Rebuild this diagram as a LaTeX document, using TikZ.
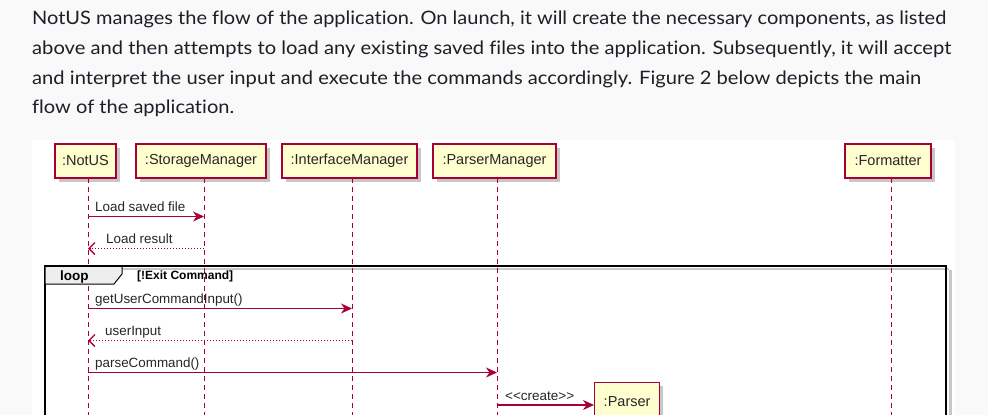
\documentclass[tikz,border=0pt]{standalone}
\usepackage{fontspec}
\usepackage{graphicx}
\setmainfont{Liberation Sans}
\newfontfamily\parafont[Ligatures=NoCommon]{Lato}
\newfontfamily\diafont{Liberation Sans}
\usetikzlibrary{arrows.meta}
\definecolor{umlred}{HTML}{A80036}
\definecolor{umlfill}{HTML}{FEFECE}
\definecolor{pagebg}{HTML}{F9F9F9}
\definecolor{paratext}{HTML}{1E1E28}
\definecolor{tabgrey}{HTML}{EEEEEE}
\begin{document}
\begin{tikzpicture}[x=1pt,y=-1pt,
  paraline/.style={anchor=base west,inner sep=0pt,text=paratext,font=\parafont\fontsize{18.5}{20}\selectfont},
  partbox/.style={draw=umlred,fill=umlfill,line width=1.2pt,minimum height=34pt,inner xsep=4pt,inner ysep=0pt,font=\diafont\fontsize{14.5}{16}\selectfont,text=black!85},
  lifeline/.style={draw=umlred,line width=0.8pt,dash pattern=on 5pt off 4pt},
  msg/.style={draw=umlred,line width=1.1pt,-{Stealth[length=11pt,width=10pt,inset=3.5pt]}},
  ret/.style={draw=umlred,line width=1.1pt,dash pattern=on 1.5pt off 1.5pt,-{Straight Barb[length=6pt,width=12pt,line width=1.4pt]}},
  msglabel/.style={anchor=base west,inner sep=0pt,font=\diafont\fontsize{13.4}{15}\selectfont,text=black!85},
]
\useasboundingbox (0,0) rectangle (988,415);
\fill[pagebg] (0,0) rectangle (988,415);
% paragraph
\node[paraline] (p1) at (32,25) {\resizebox{914pt}{\height}{NotUS manages the flow of the application. On launch, it will create the necessary components, as listed}};
\node[paraline] (p2) at (32,54.5) {\resizebox{919pt}{\height}{above and then attempts to load any existing saved files into the application. Subsequently, it will accept}};
\node[paraline] (p3) at (32,84) {\resizebox{889pt}{\height}{and interpret the user input and execute the commands accordingly. Figure 2 below depicts the main}};
\node[paraline] (p4) at (32,113.5) {\resizebox{202pt}{\height}{flow of the application.}};
% diagram area
\fill[white] (32,140) rectangle (955,415);
% loop frame shadow
\fill[black!22] (949,270) rectangle (952,415);
\fill[black!22] (50,268) rectangle (949,270);
% participants shadows
\foreach \a/\b in {55/116,136/266,282/417,433/556,845/931}{
  \fill[black!22] (\a+4,148) rectangle (\b+4,182);
}
\fill[black!22] (598,386) rectangle (663,415);
% participants
\node[partbox,minimum width=61pt] (notus) at (85.5,161) {:NotUS};
\node[partbox,minimum width=130pt] (storage) at (201,161) {:StorageManager};
\node[partbox,minimum width=135pt] (iface) at (349.5,161) {:InterfaceManager};
\node[partbox,minimum width=123pt] (pmgr) at (494.5,161) {:ParserManager};
\node[partbox,minimum width=86pt] (fmt) at (888,161) {:Formatter};
% lifeline ends
\coordinate (notusE) at (88,415);
\coordinate (storageE) at (204,415);
\coordinate (ifaceE) at (352,415);
\coordinate (pmgrE) at (497,415);
\coordinate (fmtE) at (891,415);
\coordinate (notusS) at (88,178);
\coordinate (storageS) at (204,178);
\coordinate (ifaceS) at (352,178);
\coordinate (pmgrS) at (497,178);
\coordinate (fmtS) at (891,178);
\draw[lifeline] (notusS) -- (notusE);
\draw[lifeline] (storageS) -- (storageE);
\draw[lifeline] (ifaceS) -- (ifaceE);
\draw[lifeline] (pmgrS) -- (pmgrE);
\draw[lifeline] (fmtS) -- (fmtE);
% loop frame
\draw[black,line width=1.8pt] (45,415) -- (45,266) -- (946,266) -- (946,415);
\fill[tabgrey,draw=black,line width=1pt] (45,266) -- (122,266) -- (122,274) -- (114,284) -- (45,284) -- cycle;
\draw[black,line width=1.8pt] (45,266) -- (946,266);
\node[anchor=base west,inner sep=0pt,font=\diafont\bfseries\fontsize{13.5}{15}\selectfont] (looplbl) at (60,280.5) {loop};
\node[anchor=base west,inner sep=0pt,font=\diafont\bfseries\fontsize{12}{13}\selectfont] (guard) at (137,279.5) {[!Exit Command]};
% messages
\coordinate (m1a) at (88,216.5);  \coordinate (m1b) at (204,216.5);
\draw[msg] (m1a) -- (m1b);
\node[msglabel] (l1) at (95,211.5) {Load saved file};
\coordinate (m2a) at (204,248.5);  \coordinate (m2b) at (88,248.5);
\draw[ret] (m2a) -- (m2b);
\node[msglabel] (l2) at (106,243.5) {Load result};
\coordinate (m3a) at (88,308.5);  \coordinate (m3b) at (352,308.5);
\draw[msg] (m3a) -- (m3b);
\node[msglabel] (l3) at (95,303.5) {getUserCommandInput()};
\coordinate (m4a) at (352,340.5);  \coordinate (m4b) at (88,340.5);
\draw[ret] (m4a) -- (m4b);
\node[msglabel] (l4) at (105,335.5) {userInput};
\coordinate (m5a) at (88,372.5);  \coordinate (m5b) at (497,372.5);
\draw[msg] (m5a) -- (m5b);
\node[msglabel] (l5) at (95,367.5) {parseCommand()};
% parser
\node[partbox,minimum width=65pt,minimum height=40pt,anchor=north west] (parser) at (594,382) {\raisebox{1.5pt}{:Parser}};
\coordinate (m6a) at (497,405);
\draw[msg] (m6a) -- (m6a -| parser.west);
\node[msglabel,font=\diafont\fontsize{13.5}{15}\selectfont] (l6) at (505,400) {<{}<create>{}>};
\end{tikzpicture}
\end{document}
